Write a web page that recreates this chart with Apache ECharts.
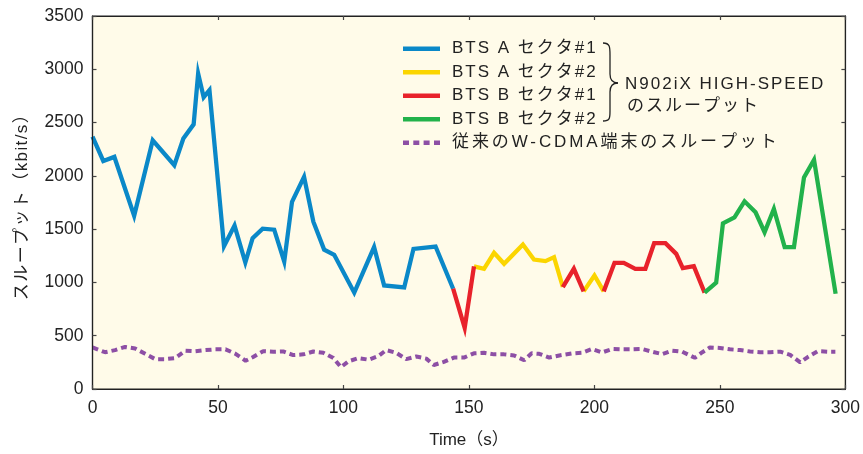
<!DOCTYPE html>
<html><head><meta charset="utf-8">
<script src="https://cdn.jsdelivr.net/npm/echarts@6/dist/echarts.min.js"></script>
<style>html,body{margin:0;padding:0;background:#fff}#c{width:863px;height:454px}</style>
</head><body><div id="c"></div>
<script>
// Tick labels
const xTicks = [0, 50, 100, 150, 200, 250, 300];
const yTicks = [0, 500, 1000, 1500, 2000, 2500, 3000, 3500];

// Series names
const nameA1 = 'BTS A セクタ#1';
const nameA2 = 'BTS A セクタ#2';
const nameB1 = 'BTS B セクタ#1';
const nameB2 = 'BTS B セクタ#2';
const nameWC = '従来のW-CDMA端末のスループット';
const braceLine1 = 'N902iX HIGH-SPEED';
const braceLine2 = 'のスループット';
const xName = 'Time（s）';
const yName = 'スループット（kbit/s）';

// BTS A sector #1 (blue)
const tA1 = [0,4.3,8.7,16.6,24,32.6,36.2,40.3,42.1,44.3,46.6,52.4,56.6,60.9,63.8,67.8,72.4,76.4,79.5,84.3,88,92.3,96.3,104.3,112.2,116.2,124.2,127.9,136.7,143.7];
const vA1 = [2368,2140,2178,1626,2334,2100,2350,2483,2960,2738,2804,1340,1533,1187,1415,1505,1495,1196,1757,1991,1570,1308,1259,904,1331,972,953,1315,1337,941];

// BTS B sector #1 (red) segments
const tB1a = [143.7,148.3,152];
const vB1a = [941,574,1150];
const tB1b = [187.4,191.8,195.7];
const vB1b = [957,1128,916];
const tB1c = [203.7,208,211.7,216.3,220.3,223.8,228.3,232.6,235.2,239.6,243.9];
const vB1c = [916,1184,1184,1128,1128,1368,1368,1268,1135,1153,904];

// BTS A sector #2 (yellow) segments
const tA2a = [152,156,160,164,171.5,175.9,180.5,183.9,187.4];
const vA2a = [1150,1128,1278,1175,1355,1215,1200,1237,957];
const tA2b = [195.7,200,203.7];
const vA2b = [916,1065,916];

// BTS B sector #2 (green)
const tB2 = [243.9,248.5,251.2,255.8,259.8,264.2,267.8,271.5,275.8,279.5,283.5,287.5,296.1];
const vB2 = [904,997,1555,1611,1761,1658,1471,1689,1331,1331,1985,2150,894];

// Conventional W-CDMA terminal (purple dotted)
const tWC = [0,5,9,13,17,21,25,29,33,37,41,45,49,53,57,61,64,68,72,76,80,84,88,92,96,99,102,106,110,114,117,121,125,129,133,136,140,144,148,152,156,160,164,168,172,175,178,182,186,191,195,199,203,207,211,215,219,223,227,231,235,240,243,246,250,254,258,262,266,270,274,278,282,285,289,293,296];
const vWC = [390,345,365,395,380,330,280,280,290,360,355,365,372,372,330,265,300,355,350,352,318,325,352,340,290,205,260,290,275,310,365,340,280,305,285,225,255,295,295,335,340,325,325,315,270,335,330,295,315,334,340,375,343,375,372,372,375,350,327,360,350,293,345,390,385,372,365,352,345,345,350,320,250,300,355,350,350];

const zip = (t, v) => t.map((x, i) => [x, v[i]]);
const FONT = '"Liberation Sans", "Noto Sans CJK JP", sans-serif';

// Letter spacing (tracking) for the text set in the reference with wide spacing
const TRACKING = {};
[nameA1, nameA2, nameB1, nameB2, braceLine1, braceLine2].forEach(s => TRACKING[s] = 2);
TRACKING[nameWC] = 2.9;
TRACKING[yName] = 1.4;
(function () {
  const proto = CanvasRenderingContext2D.prototype;
  const origFill = proto.fillText;
  proto.fillText = function (t, x, y, w) {
    if ('letterSpacing' in this) this.letterSpacing = TRACKING[t] ? TRACKING[t] + 'px' : '0px';
    return w === undefined ? origFill.call(this, t, x, y) : origFill.call(this, t, x, y, w);
  };
})();

function lineSeries(name, t, v, color, extra) {
  return Object.assign({
    type: 'line', name: name, data: zip(t, v),
    showSymbol: false, symbol: 'none', smooth: false,
    lineStyle: { color: color, width: 4.3, join: 'miter' },
    itemStyle: { color: color },
    animation: false
  }, extra || {});
}

const chart = echarts.init(document.getElementById('c'), null, { renderer: 'canvas' });

function axisBase() {
  return {
    type: 'value', z: 10,
    axisLine: { show: true, onZero: false, lineStyle: { color: '#222', width: 1.2 } },
    axisTick: { show: true, inside: true, length: 4, lineStyle: { color: '#444', width: 1.2 } },
    splitLine: { show: false }
  };
}

const braceStyle = { stroke: '#222', lineWidth: 1.3, fill: null };
function bez(x1, y1, cx1, cy1, cx2, cy2, x2, y2) {
  return { type: 'bezierCurve', silent: true, shape: { x1: x1, y1: y1, x2: x2, y2: y2, cpx1: cx1, cpy1: cy1, cpx2: cx2, cpy2: cy2 }, style: braceStyle };
}
function seg(x1, y1, x2, y2) {
  return { type: 'line', silent: true, shape: { x1: x1, y1: y1, x2: x2, y2: y2 }, style: braceStyle };
}

const solidIcon = 'path://M0,0H37V4.3H0Z';
const dottedIcon = 'path://M0,0H6V4.3H0Z M10.3,0H16.3V4.3H10.3Z M20.6,0H26.6V4.3H20.6Z M31,0H37V4.3H31Z';

chart.setOption({
  backgroundColor: '#ffffff',
  textStyle: { fontFamily: FONT },
  grid: { left: 92.5, right: 17, top: 16, bottom: 62.5, show: true, backgroundColor: '#fffbe9', borderColor: '#222', borderWidth: 1.2 },
  xAxis: [
    Object.assign(axisBase(), {
      min: xTicks[0], max: xTicks[xTicks.length - 1], interval: 50,
      name: xName, nameLocation: 'middle', nameGap: 43,
      nameTextStyle: { color: '#222', fontSize: 17, fontFamily: FONT },
      axisLabel: { color: '#222', fontSize: 17.5, margin: 10, fontFamily: FONT }
    }),
    Object.assign(axisBase(), {
      position: 'top', min: xTicks[0], max: xTicks[xTicks.length - 1], interval: 50,
      axisLabel: { show: false }
    })
  ],
  yAxis: [
    Object.assign(axisBase(), {
      min: yTicks[0], max: yTicks[yTicks.length - 1], interval: 500,
      name: yName, nameLocation: 'middle', nameGap: 62, nameRotate: 90,
      nameTextStyle: { color: '#222', fontSize: 17, fontFamily: FONT },
      axisLabel: { color: '#222', fontSize: 17.5, margin: 9, fontFamily: FONT, formatter: v => String(v) }
    }),
    Object.assign(axisBase(), {
      position: 'right', min: yTicks[0], max: yTicks[yTicks.length - 1], interval: 500,
      axisLabel: { show: false }
    })
  ],
  legend: {
    orient: 'vertical', left: 403, top: 37, padding: 0,
    itemWidth: 37, itemHeight: 4.3, itemGap: 0,
    data: [
      { name: nameA1, icon: solidIcon },
      { name: nameA2, icon: solidIcon },
      { name: nameB1, icon: solidIcon },
      { name: nameB2, icon: solidIcon },
      { name: nameWC, icon: dottedIcon }
    ],
    textStyle: { color: '#222', fontSize: 17, lineHeight: 23.5, fontFamily: FONT, padding: [0, 0, 0, 7] },
    selectedMode: false
  },
  graphic: [
    bez(603, 43, 610, 43, 610, 47, 610, 55),
    seg(610, 55, 610, 74),
    bez(610, 74, 610, 80, 612, 83, 618, 83),
    bez(618, 83, 612, 83, 610, 86, 610, 92),
    seg(610, 92, 610, 111),
    bez(610, 111, 610, 118, 610, 121, 603, 121),
    {
      type: 'text', left: 625, top: 76, silent: true,
      style: { text: braceLine1, fill: '#222', font: '17px ' + FONT }
    },
    {
      type: 'text', left: 627, top: 98, silent: true,
      style: { text: braceLine2, fill: '#222', font: '17px ' + FONT }
    }
  ],
  series: [
    lineSeries(nameWC, tWC, vWC, '#8d4fa5', { lineStyle: { color: '#8d4fa5', width: 4, type: [6, 4], cap: 'butt' } }),
    lineSeries(nameA1, tA1, vA1, '#0a88c8'),
    lineSeries(nameA2, tA2a, vA2a, '#fbd500'),
    lineSeries(nameA2, tA2b, vA2b, '#fbd500'),
    lineSeries(nameB1, tB1a, vB1a, '#e8222b'),
    lineSeries(nameB1, tB1b, vB1b, '#e8222b'),
    lineSeries(nameB1, tB1c, vB1c, '#e8222b'),
    lineSeries(nameB2, tB2, vB2, '#22b24b')
  ]
});
</script></body></html>
